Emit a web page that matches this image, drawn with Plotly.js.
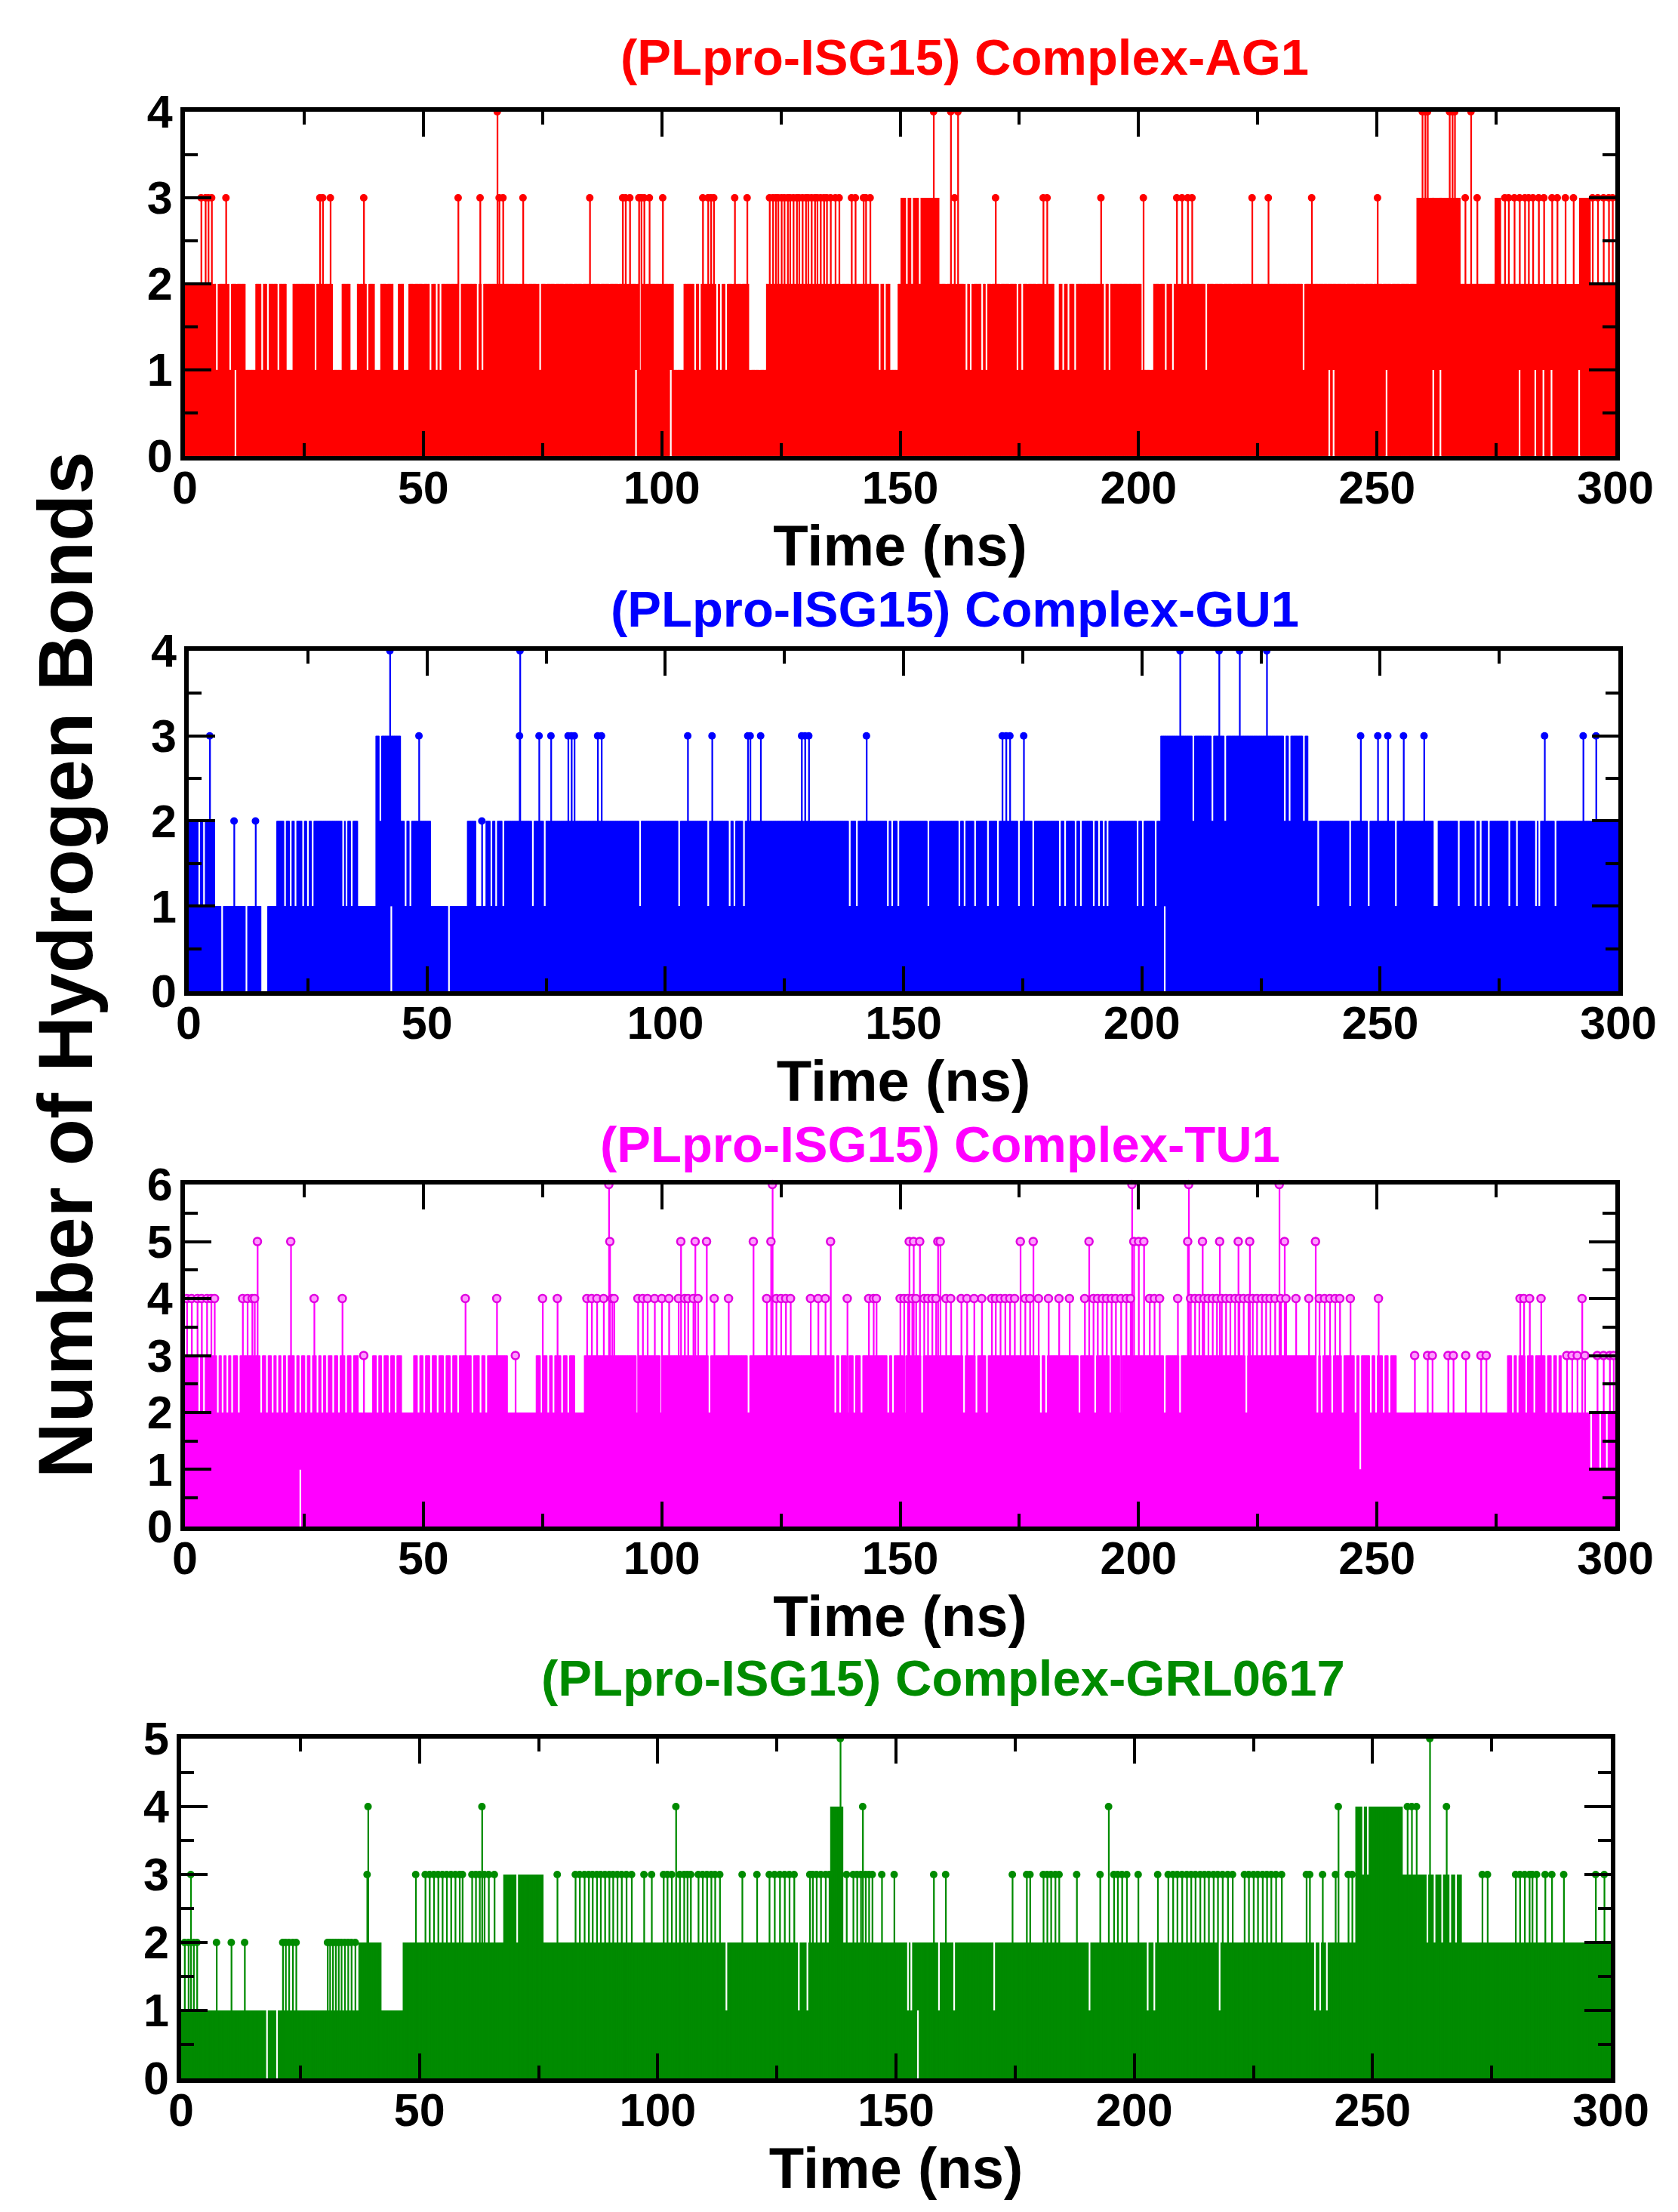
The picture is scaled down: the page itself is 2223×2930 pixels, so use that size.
<!DOCTYPE html>
<html>
<head>
<meta charset="utf-8">
<script src="https://cdn.plot.ly/plotly-3.0.1.min.js"></script>
<style>html,body{margin:0;padding:0;background:#fff}#chart{width:2223px;height:2930px}</style>
</head>
<body>
<div id="chart"></div>
<script>
// ---------- DATA ----------
const panelTitles = ['(PLpro-ISG15) Complex-AG1', '(PLpro-ISG15) Complex-GU1', '(PLpro-ISG15) Complex-TU1', '(PLpro-ISG15) Complex-GRL0617'];
const xAxisTitle = 'Time (ns)';
const yAxisTitle = 'Number of Hydrogen Bonds';
const yMaxValues = [4, 4, 6, 5];
const timeRange = [0, 300];

// base runs: [start ns, end ns, typical upper count]
const ag1Base = [[0,12.7,2],[12.7,14.9,1],[14.9,21.3,2],[21.3,22.7,1],[22.7,31.0,2],[31.0,33.0,1],[33.0,34.7,2],[34.7,36.2,1],[36.2,39.8,2],[39.8,41.1,1],[41.1,43.7,2],[43.7,44.8,1],[44.8,45.9,2],[45.9,47.0,1],[47.0,102.5,2],[102.5,104.7,1],[104.7,118.3,2],[118.3,122.0,1],[122.0,147.9,2],[147.9,149.6,1],[149.6,150.2,2],[150.2,158.2,3],[158.2,182.3,2],[182.3,183.4,1],[183.4,200.6,2],[200.6,203.2,1],[203.2,258.4,2],[258.4,267.5,3],[267.5,274.8,2],[274.8,276.0,3],[276.0,292.5,2],[292.5,294.8,3],[294.8,300,2]];
// short drops of the upper count: [ns, count]
const ag1Dips = [[6.7,1],[9.5,1],[16.2,1],[17.4,1],[19.6,1],[27.4,1],[38.3,1],[51.5,1],[52.8,1],[53.6,1],[57.7,1],[61.4,1],[62.4,1],[74.5,1],[95.6,1],[107.0,1],[108.0,1],[111.6,1],[112.4,1],[113.5,1],[145.7,1],[146.8,1],[151.4,2],[152.5,2],[154.1,2],[163.9,1],[164.8,1],[167.2,1],[168.1,1],[174.6,1],[175.6,1],[184.2,1],[185.3,1],[186.7,1],[192.9,1],[193.9,1],[205.7,1],[207.2,1],[214.2,1],[234.6,1]];
// moments where the count never fell below the given value: [ns, lowest]
const ag1Gaps = [[10.6,1],[94.6,1],[101.9,1],[240.0,1],[240.9,1],[252.0,1],[261.8,1],[263.3,1],[279.9,1],[283.2,1],[284.9,1],[286.6,1],[292.4,1]];
// peak counts: [ns, count]
const ag1Spikes = [[3.4,3],[4.3,3],[4.9,3],[5.6,3],[8.6,3],[28.3,3],[28.9,3],[30.5,3],[37.5,3],[57.3,3],[61.9,3],[65.5,4],[65.9,3],[66.7,3],[70.9,3],[84.9,3],[91.8,3],[92.4,3],[93.3,3],[95.2,3],[95.7,3],[96.3,3],[97.4,3],[100.2,3],[108.6,3],[109.7,3],[110.3,3],[110.9,3],[115.3,3],[117.9,3],
[122.6,3],[123.3,3],[123.9,3],[124.4,3],[125.1,3],[125.7,3],[126.4,3],[126.9,3],[127.6,3],[128.3,3],[128.8,3],[129.5,3],[130.2,3],[130.7,3],[131.4,3],[132.1,3],[132.6,3],[133.3,3],[134.0,3],[134.6,3],[135.4,3],
[136.4,3],[137.2,3],[139.8,3],[140.6,3],[142.3,3],[142.8,3],[143.7,3],[157.0,4],[160.6,4],[161.4,3],[162.1,4],[170.0,3],[180.0,3],[180.8,3],[192.1,3],[201.0,3],[208.0,3],[209.1,3],[210.3,3],[211.2,3],[223.8,3],[227.2,3],[236.3,3],[250.1,3],
[259.5,4],[260.1,4],[260.6,4],[265.2,4],[265.8,4],[266.3,4],[268.5,3],[269.7,4],[271.0,3],
[276.8,3],[277.6,3],[278.8,3],[279.9,3],[281.0,3],[281.8,3],[282.7,3],[283.9,3],[285.0,3],[286.7,3],[287.8,3],[289.5,3],[291.2,3],[295.2,3],[296.3,3],[297.5,3],[298.6,3],[299.4,3]];

const gu1Base = [[0,5.5,2],[5.5,18.5,1],[18.5,35.5,2],[35.5,39.3,1],[39.3,44.5,3],[44.5,50.8,2],[50.8,58.5,1],[58.5,60.3,2],[60.3,62.4,1],[62.4,204.0,2],[204.0,234.9,3],[234.9,300,2]];
const gu1Dips = [[2.2,1],[3.2,1],[20.2,1],[21.4,1],[22.4,1],[24.0,1],[25.0,1],[26.0,1],[32.4,1],[33.1,1],[34.2,1],[40.2,2],[45.5,1],[46.5,1],[63.5,1],[64.5,1],[66.0,1],[72.2,1],[74.7,1],[94.7,1],[102.9,1],[109.0,1],[113.5,1],[114.5,1],[116.5,1],[138.7,1],[140.2,1],[146.7,1],[147.6,1],[148.9,1],[155.2,1],[161.7,1],[162.8,1],[165.0,1],[167.7,1],[169.8,1],[174.2,1],[177.2,1],[182.8,1],[183.9,1],[186.1,1],[187.2,1],[189.9,1],[191.0,1],[192.0,1],[192.8,1],[199.1,1],[200.2,1],[202.9,1],[210.8,2],[214.8,2],[217.5,2],[230.0,2],[231.0,2],[234.0,2],[237.0,1],[243.7,1],[247.6,1],[253.3,1],[261.4,1],[261.9,1],[266.5,1],[270.0,1],[271.1,1],[272.8,1],[277.1,1],[278.7,1],[282.7,1],[283.4,1],[286.8,1]];
const gu1Gaps = [[7.0,1],[12.1,1],[15.4,1],[15.9,1],[16.3,1],[42.5,1],[54.6,1],[204.8,1]];
const gu1Spikes = [[4.4,3],[9.5,2],[14.0,2],[42.2,4],[48.3,3],[61.5,2],[69.4,3],[69.5,4],[73.5,3],[76.0,3],[79.6,3],[80.3,3],[80.9,3],[85.8,3],[86.6,3],[104.7,3],[109.8,3],[117.3,3],[117.8,3],[120.0,3],[128.6,3],[129.3,3],[130.1,3],[142.2,3],[170.7,3],[171.5,3],[172.3,3],[175.2,3],[208.0,4],[216.2,4],[220.5,4],[226.2,4],[245.9,3],[249.5,3],[251.6,3],[254.9,3],[259.2,3],[284.5,3],[292.6,3],[295.3,3]];

const tu1Base = [[0,36.4,3],[36.4,39.4,2],[39.4,45.5,3],[45.5,48.0,2],[48.0,67.7,3],[67.7,73.7,2],[73.7,81.8,3],[81.8,83.8,2],[83.8,254.1,3],[254.1,277.4,2],[277.4,288.7,3],[288.7,300,2]];
const tu1Dips = [[3.0,2],[4.0,2],[6.9,2],[7.9,2],[8.9,2],[9.9,2],[11.3,2],[16.0,2],[17.2,2],[18.4,2],[19.4,2],[20.4,2],[21.4,2],[23.2,2],[24.2,2],[25.4,2],[26.5,2],[27.8,2],[28.8,2],[29.8,2],[31.1,2],[32.3,2],[33.8,2],[35.1,2],[40.4,2],[41.5,2],[42.9,2],[44.2,2],[49.0,2],[50.2,2],[51.6,2],[53.0,2],[54.5,2],[55.9,2],[57.3,2],[60.3,2],[62.0,2],[63.2,2],[74.8,2],[76.2,2],[77.3,2],[79.1,2],[80.4,2],[94.9,2],[99.9,2],[110.0,2],[118.2,2],[136.4,2],[137.4,2],[139.0,2],[140.4,2],[141.9,2],[147.5,2],[148.5,2],[150.9,2],[154.6,2],[163.4,2],[166.0,2],[168.2,2],[179.5,2],[180.6,2],[187.6,2],[190.9,2],[194.1,2],[196.3,2],[205.5,2],[208.7,2],[222.6,2],[237.5,2],[238.4,2],[240.6,2],[242.8,2],[245.5,2],[246.5,1],[248.7,2],[249.8,2],[251.4,2],[252.6,2],[278.5,2],[279.5,2],[281.3,2],[283.0,2],[285.5,2],[286.8,2],[287.9,2],[294.9,1],[296.8,1],[298.2,1]];
const tu1Gaps = [[24.2,1]];
const tu1Spikes = [[0.4,4],[1.4,4],[2.6,4],[3.5,4],[4.6,4],[5.5,4],[6.2,4],[12.1,4],[13.1,4],[14.1,4],[14.6,4],[15.2,5],[22.2,5],[27.1,4],[33.0,4],[37.5,3],[58.8,4],[65.4,4],[69.3,3],[75.0,4],[78.1,4],[84.3,4],[85.3,4],[86.4,4],[87.8,4],[88.9,6],[89.1,5],[89.6,4],[90.0,4],[95.0,4],[96.0,4],[97.0,4],[98.5,4],[100.0,4],[101.5,4],[103.5,4],[104.0,5],[104.8,4],[105.5,4],[106.6,4],[107.0,5],[107.6,4],[109.4,5],[111.0,4],[114.0,4],[119.2,5],[122.0,4],[122.9,5],[123.2,6],[124.0,4],[125.0,4],[126.0,4],[127.0,4],[131.2,4],[132.8,4],[134.3,4],[135.4,5],[138.9,4],[143.4,4],[144.4,4],[145.0,4],
[150.0,4],[150.8,4],[151.6,4],[151.9,5],[152.5,4],[152.8,5],[153.3,4],[154.1,5],[155.0,4],[155.8,4],[156.7,4],[157.5,4],[157.9,5],[158.4,5],[159.6,4],[160.6,4],[162.8,4],[164.0,4],[165.5,4],[167.1,4],[169.2,4],[170.0,4],[171.0,4],[172.0,4],[173.0,4],[174.0,4],[175.2,5],[176.2,4],[177.2,4],[177.9,5],[179.0,4],[181.1,4],[183.3,4],[185.5,4],[188.7,4],[189.6,5],[190.5,4],[191.4,4],[192.4,4],[193.3,4],[194.3,4],[195.2,4],[196.3,4],[197.4,4],[198.3,4],[198.6,6],[199.0,5],[200.0,5],[201.1,5],[202.3,4],[203.3,4],[204.4,4],[208.2,4],[210.3,5],[210.5,6],[210.9,4],[211.8,4],[212.7,4],[213.4,5],[213.7,4],[214.6,4],[215.5,4],[216.4,4],[217.0,5],[217.4,4],[218.3,4],[219.2,4],[220.2,4],[220.9,5],[221.1,4],[222.0,4],[223.0,4],[223.3,5],[223.9,4],[224.8,4],[225.8,4],[226.7,4],[227.6,4],[228.6,4],[229.5,6],[229.8,4],[230.6,5],[230.9,4],[233.0,4],[235.7,4],[237.1,5],[237.9,4],[239.0,4],[240.1,4],[241.2,4],[242.2,4],[244.4,4],[250.3,4],[257.9,3],[260.6,3],[261.6,3],[264.9,3],[266.0,3],[268.6,3],[271.8,3],[272.9,3],[280.0,4],[280.8,4],[282.0,4],[284.4,4],[289.8,3],[290.9,3],[292.0,3],[293.0,4],[293.6,3],[296.2,3],[297.5,3],[298.8,3],[299.6,3]];

const grlBase = [[0,37.3,1],[37.3,42.0,2],[42.0,46.6,1],[46.6,67.7,2],[67.7,76.0,3],[76.0,136.3,2],[136.3,138.9,4],[138.9,246.5,2],[246.5,256.3,4],[256.3,268.7,3],[268.7,300,2]];
const grlDips = [[70.5,2],[114.4,1],[129.6,1],[131.4,1],[152.5,1],[153.2,1],[159.0,1],[162.2,1],[170.6,1],[190.6,1],[202.8,1],[204.2,1],[217.9,1],[237.9,1],[239.0,1],[240.4,1],[248.0,3],[249.0,3],[261.5,2],[263.0,2],[264.6,2],[266.3,2],[267.5,2]];
const grlGaps = [[18.0,1],[20.1,1],[154.6,1]];
const grlSpikes = [[0.7,2],[1.5,2],[2.0,3],[2.6,2],[3.3,2],[7.4,2],[10.5,2],[13.3,2],[21.3,2],[21.9,2],[22.6,2],[23.4,2],[24.1,2],[30.7,2],[31.2,2],[31.8,2],[32.4,2],[33.0,2],[33.6,2],[34.3,2],[35.0,2],[35.7,2],[36.5,2],[39.0,3],[39.2,4],[49.2,3],[51.2,3],[52.1,3],[53.0,3],[53.9,3],[54.8,3],[55.7,3],[56.6,3],[57.5,3],[58.4,3],[59.0,3],[61.0,3],[61.8,3],[62.6,3],[63.1,4],[63.6,3],[64.5,3],[65.7,3],[78.9,3],[82.7,3],[83.6,3],[84.6,3],[85.5,3],[86.3,3],[87.2,3],[88.0,3],[88.9,3],[89.8,3],[90.6,3],[91.5,3],[92.4,3],[93.4,3],[94.5,3],[97.1,3],[98.7,3],[101.2,3],[102.0,3],[102.9,3],[103.8,4],[104.6,3],[105.5,3],[106.2,3],[106.9,3],[108.5,3],[109.4,3],[110.3,3],[111.2,3],[112.0,3],[113.0,3],[117.7,3],[120.8,3],[123.4,3],[124.5,3],[125.6,3],[126.6,3],[127.6,3],[128.6,3],[131.9,3],[132.5,3],[133.3,3],[134.2,3],[135.2,3],[136.0,3],[138.3,5],[139.6,3],[141.0,3],[141.8,3],[142.6,3],[143.0,4],[143.6,3],[144.3,3],[145.0,3],[147.0,3],[149.6,3],[157.9,3],[160.4,3],[174.4,3],[177.4,3],[178.1,3],[180.9,3],[181.7,3],[182.5,3],[183.4,3],[184.2,3],[187.9,3],[192.8,3],[194.6,4],[195.7,3],[196.5,3],[197.4,3],[198.4,3],[200.8,3],[204.9,3],[207.1,3],[208.1,3],[209.0,3],[210.0,3],[211.0,3],[211.9,3],[212.8,3],[213.8,3],[214.7,3],[215.6,3],[216.6,3],[217.5,3],[218.5,3],[219.6,3],[220.6,3],[223.1,3],[224.0,3],[225.0,3],[225.9,3],[226.9,3],[227.8,3],[228.7,3],[229.7,3],[230.9,3],[236.1,3],[236.8,3],[239.5,3],[242.2,3],[242.8,4],[244.9,3],[245.7,3],[257.3,4],[258.2,4],[259.2,4],[262.0,5],[265.5,4],[273.0,3],[274.1,3],[280.0,3],[280.9,3],[281.9,3],[282.9,3],[283.5,3],[284.4,3],[286.2,3],[287.6,3],[290.1,3],[296.8,3],[298.6,3]];

// ---------- DRAWING ----------
const panels = [
  {base: ag1Base, dips: ag1Dips, gaps: ag1Gaps, spikes: ag1Spikes},
  {base: gu1Base, dips: gu1Dips, gaps: gu1Gaps, spikes: gu1Spikes},
  {base: tu1Base, dips: tu1Dips, gaps: tu1Gaps, spikes: tu1Spikes},
  {base: grlBase, dips: grlDips, gaps: grlGaps, spikes: grlSpikes}
];
const colors = ['#ff0000', '#0000ff', '#ff00ff', '#008b00'];
const xDomains = [[0.1102, 0.9627], [0.1125, 0.9645], [0.1102, 0.9627], [0.1080, 0.9600]];
const yDomains = [[0.7939, 0.9495], [0.5519, 0.7058], [0.3099, 0.4645], [0.0604, 0.2140]];
const titlePos = [[0.5749, 0.9744], [0.5691, 0.7249], [0.5601, 0.4829], [0.5623, 0.2416]];

const STEP = 0.1;
const N = Math.round((timeRange[1] - timeRange[0]) / STEP);

function buildColumns(p) {
  const hi = new Array(N + 1).fill(0), lo = new Array(N + 1).fill(0);
  const idx = t => Math.round((t - timeRange[0]) / STEP);
  p.base.forEach(([a, b, v]) => { for (let i = Math.max(0, idx(a)); i <= Math.min(N, idx(b)); i++) hi[i] = v; });
  p.dips.forEach(([t, v]) => { const c = idx(t); for (let i = c - 2; i <= c + 2; i++) if (i >= 0 && i <= N) hi[i] = Math.min(hi[i], v); });
  p.gaps.forEach(([t, v]) => { const c = idx(t); for (let i = c - 2; i <= c + 2; i++) if (i >= 0 && i <= N) lo[i] = Math.max(lo[i], v); });
  p.spikes.forEach(([t, v]) => { const c = idx(t); for (let i = c; i <= c + 1; i++) if (i >= 0 && i <= N) hi[i] = Math.max(hi[i], v); });
  const x = [], y = [];
  for (let i = 0; i <= N; i++) {
    if (hi[i] > lo[i]) { const t = +(timeRange[0] + i * STEP).toFixed(2); x.push(t, t, null); y.push(lo[i], hi[i], null); }
  }
  return {x, y};
}

const FONT = 'Liberation Sans, Arial, Helvetica, sans-serif';
const traces = [];
const layout = {
  width: 2223, height: 2930,
  margin: {l: 0, r: 0, t: 0, b: 0},
  paper_bgcolor: '#ffffff', plot_bgcolor: '#ffffff',
  showlegend: false,
  annotations: []
};

panels.forEach((p, k) => {
  const n = k + 1;
  const xa = 'x' + (n === 1 ? '' : n), ya = 'y' + (n === 1 ? '' : n);
  const cols = buildColumns(p);
  traces.push({type: 'scatter', mode: 'lines', x: cols.x, y: cols.y, xaxis: xa, yaxis: ya,
    line: {color: colors[k], width: 1.6}, hoverinfo: 'skip', connectgaps: false});
  traces.push({type: 'scatter', mode: 'markers', x: p.spikes.map(s => s[0]), y: p.spikes.map(s => s[1]), xaxis: xa, yaxis: ya,
    marker: k === 2 ? {color: '#ff99ff', size: 10, line: {color: '#e000e0', width: 2.5}} : {color: colors[k], size: 10, line: {width: 0}},
    hoverinfo: 'skip', cliponaxis: false});

  const axCommon = {
    showline: true, linewidth: 6, linecolor: '#000', mirror: 'allticks',
    ticks: 'inside', tickwidth: 4, tickcolor: '#000',
    showgrid: false, zeroline: false, fixedrange: true,
    tickfont: {family: FONT, size: 61, color: '#000', weight: 'bold'}
  };
  layout['xaxis' + (n === 1 ? '' : n)] = Object.assign({}, axCommon, {
    domain: xDomains[k], anchor: ya, range: timeRange, tick0: 0, dtick: 50, ticklen: 33,
    minor: {dtick: 25, ticklen: 17, tickwidth: 4, tickcolor: '#000', ticks: 'inside', showgrid: false},
    ticklabelstandoff: -16,
    title: {text: xAxisTitle, font: {family: FONT, size: 76, color: '#000', weight: 'bold'}, standoff: 0}
  });
  layout['yaxis' + (n === 1 ? '' : n)] = Object.assign({}, axCommon, {
    domain: yDomains[k], anchor: xa, range: [0, yMaxValues[k]], tick0: 0, dtick: 1, ticklen: 35,
    minor: {dtick: 0.5, ticklen: 17, tickwidth: 4, tickcolor: '#000', ticks: 'inside', showgrid: false},
    ticklabelstandoff: -2
  });
  layout.annotations.push({text: panelTitles[k], xref: 'paper', yref: 'paper', x: titlePos[k][0], y: titlePos[k][1],
    xanchor: 'center', yanchor: 'middle', showarrow: false,
    font: {family: FONT, size: 67, color: colors[k], weight: 'bold'}});
});

layout.annotations.push({text: yAxisTitle, xref: 'paper', yref: 'paper', x: 0.0391, y: 0.5638,
  xanchor: 'center', yanchor: 'middle', textangle: -90, showarrow: false,
  font: {family: FONT, size: 102, color: '#000', weight: 'bold'}});

Plotly.newPlot('chart', traces, layout, {staticPlot: true, displayModeBar: false});
</script>
</body>
</html>
